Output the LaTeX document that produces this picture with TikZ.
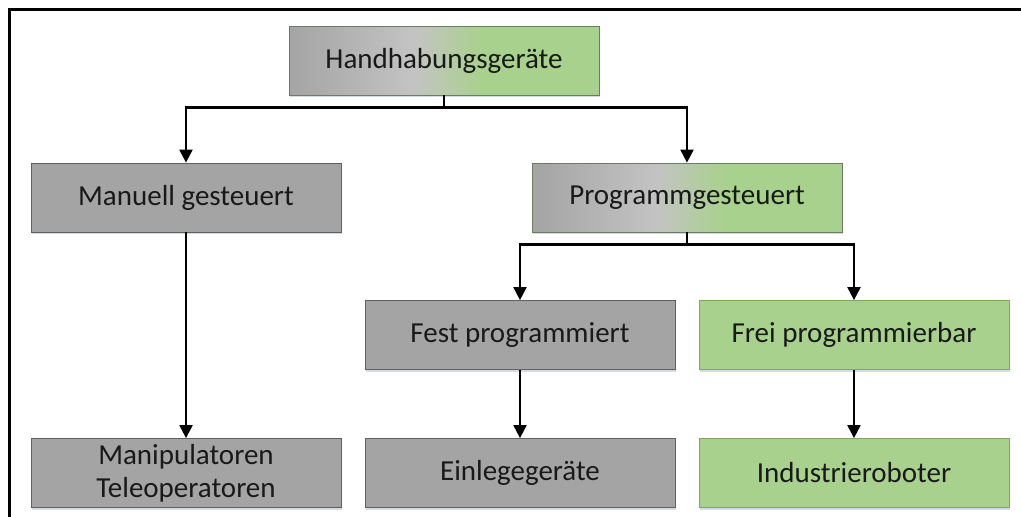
\documentclass[tikz,border=0pt]{standalone}
\usepackage{fontspec}
\setmainfont{Carlito}
\usetikzlibrary{arrows.meta,calc,shadows}
\definecolor{boxgray}{HTML}{A4A4A4}
\definecolor{lightgray2}{HTML}{C3C3C3}
\definecolor{boxgreen}{HTML}{A9D18E}
\definecolor{graybd}{HTML}{5F5F5F}
\definecolor{greenbd}{HTML}{7DA862}
\definecolor{shadowc}{HTML}{B8C4D6}
\pgfdeclarehorizontalshading{hgrad}{100bp}{color(0bp)=(boxgray); color(25bp)=(boxgray); color(45bp)=(lightgray2); color(56bp)=(boxgreen); color(100bp)=(boxgreen)}
\tikzset{
  basebox/.style={minimum width=310pt, minimum height=69pt, inner sep=2pt,
    align=center, font=\fontsize{29}{33}\selectfont, text=black!90,
    drop shadow={shadow xshift=0.5pt, shadow yshift=-2pt, fill=shadowc, opacity=0.6}},
  graybox/.style={basebox, fill=boxgray, draw=graybd, line width=0.8pt},
  greenbox/.style={basebox, fill=boxgreen, draw=greenbd, line width=0.8pt},
  gradbox/.style={basebox, draw=graybd!60!greenbd, line width=0.8pt, shading=hgrad},
  conn/.style={line width=2.2pt, -{Triangle[width=13pt,length=13pt]}},
  frame/.style={line width=3pt, black}
}
\begin{document}
\begin{tikzpicture}[x=1pt,y=-1pt]
\useasboundingbox[fill=white] (0,0) rectangle (1021,517);
\coordinate (fa) at (9.5,530);
\coordinate (fb) at (9.5,9.5);
\coordinate (fc) at (1030,9.5);
\draw[frame] (fa) -- (fb) -- (fc);

\node[gradbox] (H) at (444,60.5) {Handhabungsgeräte};
\node[graybox] (M) at (186,197.5) {Manuell gesteuert};
\node[gradbox] (P) at (687,197.5) {Programmgesteuert};
\node[graybox] (F) at (520,335) {Fest programmiert};
\node[greenbox] (R) at (854,335) {Frei programmierbar};
\node[graybox] (T) at (186,473) {Manipulatoren\\Teleoperatoren};
\node[graybox] (E) at (520,473) {Einlegegeräte};
\node[greenbox] (I) at (854,473) {Industrieroboter};

\coordinate (hj) at ($(H.south)+(0,12)$);
\coordinate (pj) at ($(P.south)+(0,12)$);
\draw[conn] (H.south) -- (hj) -| (M.north);
\draw[conn] (hj) -| (P.north);
\draw[conn] (P.south) -- (pj) -| (F.north);
\draw[conn] (pj) -| (R.north);
\draw[conn] (M.south) -- (T.north);
\draw[conn] (F.south) -- (E.north);
\draw[conn] (R.south) -- (I.north);
\end{tikzpicture}
\end{document}
